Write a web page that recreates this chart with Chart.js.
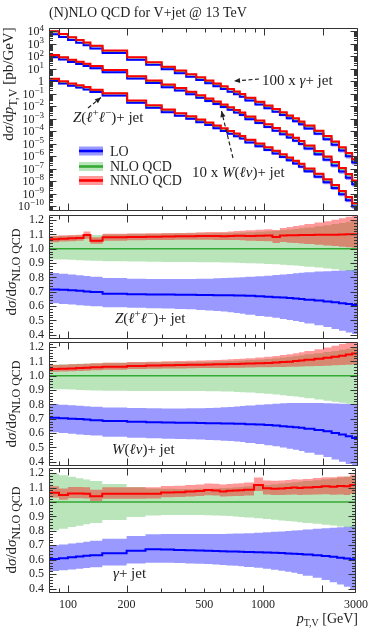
<!DOCTYPE html>
<html>
<head>
<meta charset="utf-8">
<title>(N)NLO QCD for V+jet @ 13 TeV</title>
<script src="https://cdn.jsdelivr.net/npm/chart.js@4.4.1/dist/chart.umd.min.js"></script>
<style>
  html, body { margin: 0; padding: 0; background: #fff; }
  #page { position: relative; width: 373px; height: 635px; overflow: hidden; }
  #page canvas { position: absolute; left: 0; top: 0; }
</style>
</head>
<body>
<div id="page">
  <canvas id="mainChart" width="373" height="635"></canvas>
  <canvas id="zChart" width="373" height="635"></canvas>
  <canvas id="wChart" width="373" height="635"></canvas>
  <canvas id="gChart" width="373" height="635"></canvas>
</div>
<script>
// bin edges in p_T,V [GeV]
const EDGES = [80, 90, 100, 110, 120, 130, 150, 200, 250, 300, 350, 400, 450, 500, 550, 600, 650, 700,
  750, 800, 900, 1000, 1100, 1200, 1300, 1400, 1500, 1600, 1800, 2000, 2200, 2400, 2600, 2800, 3000];

// NLO QCD central values as drawn in the top panel [pb/GeV]
const NLO_GAMMA_X100 = [9.8e3, 5.9e3, 3.3e3, 2.0e3, 1.26e3, 6.9e2, 2.85e2, 80, 32, 14.1,
  6.8, 3.5, 1.95, 1.07, 0.62, 0.37, 0.224, 0.141, 0.089, 0.045,
  0.021, 0.0107, 5.6e-3, 3.1e-3, 1.7e-3, 9.8e-4, 5.6e-4, 2.6e-4, 9.8e-5, 3.7e-5,
  1.35e-5, 4.7e-6, 1.6e-6, 5.1e-7];
const NLO_W_X10 = [1.23e2, 81, 52, 36, 24.5, 16.2, 7.8, 2.45, 1.07, 0.51,
  0.27, 0.135, 0.071, 0.039, 0.0224, 0.0129, 7.8e-3, 4.7e-3, 2.95e-3, 1.41e-3,
  6.8e-4, 3.4e-4, 1.7e-4, 8.9e-5, 4.9e-5, 2.7e-5, 1.48e-5, 6.5e-6, 2.3e-6, 8.5e-7,
  2.95e-7, 9.8e-8, 3.2e-8, 9.8e-9];
const NLO_Z = [1.51, 0.95, 0.63, 0.45, 0.32, 0.20, 0.105, 0.0275, 0.011, 5.0e-3,
  2.6e-3, 1.45e-3, 7.9e-4, 4.6e-4, 2.6e-4, 1.58e-4, 9.5e-5, 6.0e-5, 3.8e-5, 1.9e-5,
  9.5e-6, 4.8e-6, 2.5e-6, 1.32e-6, 7.2e-7, 4.0e-7, 2.2e-7, 9.5e-8, 3.5e-8, 1.26e-8,
  4.4e-9, 1.45e-9, 4.8e-10, 1.5e-10];

// ratios to NLO QCD: Z(ll)+jet
const z_lo = [0.715,0.713,0.710,0.706,0.702,0.697,0.685,0.683,0.681,0.680, 0.679,0.678,0.677,0.677,0.676,0.675,0.675,0.674,0.673,0.671, 0.668,0.665,0.662,0.659,0.656,0.652,0.649,0.644,0.638,0.632, 0.626,0.620,0.614,0.608];
const z_lo_up = [0.830,0.825,0.820,0.815,0.810,0.805,0.795,0.790,0.788,0.788, 0.788,0.789,0.790,0.791,0.793,0.795,0.797,0.799,0.801,0.804, 0.808,0.812,0.816,0.820,0.824,0.828,0.832,0.836,0.840,0.843, 0.846,0.848,0.850,0.852];
const z_lo_dn = [0.620,0.615,0.610,0.606,0.602,0.598,0.592,0.588,0.585,0.583, 0.580,0.577,0.573,0.569,0.565,0.561,0.556,0.551,0.546,0.539, 0.530,0.525,0.518,0.510,0.503,0.496,0.489,0.478,0.466,0.453, 0.440,0.428,0.416,0.405];
const z_nlo_up = [1.088,1.089,1.090,1.092,1.094,1.096,1.100,1.104,1.105,1.106, 1.107,1.107,1.108,1.108,1.109,1.110,1.111,1.112,1.113,1.115, 1.118,1.122,1.126,1.130,1.134,1.138,1.142,1.148,1.156,1.164, 1.172,1.180,1.188,1.195];
const z_nlo_dn = [0.925,0.924,0.922,0.920,0.918,0.916,0.913,0.910,0.909,0.908, 0.907,0.907,0.906,0.906,0.905,0.904,0.903,0.902,0.901,0.899, 0.897,0.894,0.891,0.888,0.885,0.882,0.879,0.874,0.868,0.862, 0.856,0.850,0.845,0.840];
const z_nnlo = [1.065,1.070,1.072,1.075,1.095,1.055,1.080,1.082,1.084,1.085, 1.086,1.087,1.088,1.089,1.088,1.087,1.089,1.091,1.090,1.089, 1.091,1.092,1.082,1.092,1.093,1.094,1.095,1.096,1.097,1.097, 1.098,1.099,1.100,1.100];
const z_nnlo_up = [1.090,1.094,1.096,1.098,1.120,1.080,1.104,1.106,1.108,1.109, 1.110,1.112,1.114,1.116,1.116,1.117,1.120,1.124,1.125,1.128, 1.132,1.136,1.130,1.145,1.152,1.158,1.164,1.172,1.182,1.192, 1.202,1.212,1.222,1.232];
const z_nnlo_dn = [1.045,1.050,1.052,1.055,1.070,1.035,1.055,1.058,1.060,1.061, 1.062,1.062,1.062,1.062,1.061,1.060,1.060,1.060,1.058,1.056, 1.054,1.052,1.040,1.046,1.042,1.039,1.036,1.032,1.027,1.022, 1.018,1.014,1.010,1.006];

// ratios to NLO QCD: W(lv)+jet
const w_lo = [0.706,0.703,0.700,0.697,0.694,0.690,0.684,0.679,0.676,0.674, 0.672,0.671,0.670,0.669,0.668,0.667,0.666,0.665,0.664,0.662, 0.659,0.656,0.652,0.648,0.644,0.640,0.636,0.630,0.622,0.612, 0.601,0.590,0.578,0.565];
const w_lo_up = [0.800,0.797,0.793,0.790,0.787,0.784,0.778,0.774,0.772,0.771, 0.771,0.772,0.773,0.775,0.777,0.779,0.782,0.785,0.788,0.792, 0.797,0.801,0.805,0.807,0.809,0.810,0.810,0.810,0.809,0.808, 0.806,0.804,0.802,0.800];
const w_lo_dn = [0.605,0.600,0.595,0.590,0.586,0.582,0.574,0.567,0.563,0.560, 0.558,0.556,0.554,0.552,0.550,0.547,0.544,0.541,0.537,0.531, 0.523,0.515,0.507,0.499,0.491,0.483,0.475,0.463,0.448,0.432, 0.416,0.400,0.384,0.368];
const w_nlo_up = [1.078,1.079,1.081,1.083,1.085,1.087,1.090,1.092,1.093,1.094, 1.095,1.096,1.097,1.098,1.099,1.100,1.102,1.104,1.106,1.109, 1.113,1.117,1.122,1.127,1.132,1.137,1.142,1.149,1.157,1.165, 1.173,1.181,1.188,1.195];
const w_nlo_dn = [0.906,0.905,0.903,0.901,0.899,0.897,0.895,0.894,0.894,0.894, 0.894,0.893,0.893,0.892,0.891,0.890,0.889,0.887,0.885,0.882, 0.878,0.874,0.869,0.864,0.859,0.854,0.849,0.842,0.834,0.826, 0.818,0.811,0.805,0.800];
const w_nnlo = [1.047,1.049,1.051,1.053,1.055,1.058,1.063,1.068,1.071,1.073, 1.075,1.076,1.077,1.078,1.079,1.080,1.081,1.082,1.083,1.085, 1.087,1.089,1.092,1.095,1.098,1.102,1.106,1.111,1.118,1.125, 1.132,1.139,1.147,1.155];
const w_nnlo_up = [1.075,1.077,1.079,1.081,1.083,1.086,1.090,1.095,1.098,1.100, 1.102,1.104,1.106,1.108,1.110,1.112,1.114,1.116,1.118,1.122, 1.127,1.132,1.138,1.144,1.150,1.157,1.164,1.173,1.185,1.197, 1.209,1.221,1.233,1.245];
const w_nnlo_dn = [1.027,1.029,1.031,1.033,1.035,1.038,1.042,1.046,1.048,1.050, 1.051,1.052,1.053,1.053,1.054,1.054,1.055,1.055,1.056,1.057, 1.058,1.059,1.060,1.061,1.062,1.063,1.064,1.066,1.068,1.070, 1.072,1.074,1.076,1.078];

// ratios to NLO QCD: gamma+jet
const g_lo = [0.605,0.610,0.617,0.622,0.627,0.632,0.645,0.663,0.672,0.671, 0.668,0.666,0.664,0.662,0.660,0.659,0.658,0.657,0.656,0.654, 0.652,0.650,0.648,0.646,0.644,0.642,0.640,0.636,0.631,0.626, 0.620,0.614,0.608,0.603];
const g_lo_up = [0.700,0.705,0.712,0.718,0.724,0.731,0.745,0.765,0.776,0.778, 0.778,0.778,0.778,0.778,0.778,0.779,0.780,0.781,0.782,0.784, 0.787,0.790,0.793,0.796,0.799,0.802,0.805,0.809,0.814,0.818, 0.822,0.825,0.828,0.830];
const g_lo_dn = [0.522,0.527,0.533,0.538,0.543,0.548,0.560,0.574,0.580,0.579, 0.577,0.575,0.572,0.570,0.567,0.564,0.561,0.558,0.555,0.550, 0.544,0.538,0.531,0.524,0.517,0.510,0.502,0.490,0.475,0.460, 0.444,0.428,0.413,0.398];
const g_nlo_up = [1.195,1.185,1.174,1.164,1.155,1.145,1.125,1.104,1.094,1.091, 1.090,1.090,1.091,1.092,1.094,1.096,1.098,1.101,1.104,1.108, 1.113,1.118,1.123,1.128,1.132,1.136,1.140,1.145,1.151,1.157, 1.163,1.169,1.174,1.180];
const g_nlo_dn = [0.805,0.815,0.826,0.836,0.845,0.855,0.875,0.896,0.906,0.909, 0.910,0.910,0.909,0.908,0.906,0.904,0.902,0.899,0.896,0.892, 0.887,0.882,0.877,0.872,0.868,0.864,0.860,0.855,0.849,0.843, 0.837,0.831,0.826,0.820];
const g_nnlo = [1.063,1.048,1.059,1.058,1.057,1.040,1.056,1.056,1.057,1.066, 1.068,1.072,1.076,1.082,1.080,1.073,1.077,1.079,1.081,1.085, 1.118,1.095,1.092,1.094,1.096,1.100,1.097,1.100,1.104,1.108, 1.106,1.110,1.108,1.118];
const g_nnlo_up = [1.108,1.093,1.104,1.103,1.102,1.085,1.101,1.101,1.102,1.111, 1.113,1.117,1.121,1.128,1.126,1.120,1.124,1.127,1.130,1.135, 1.170,1.148,1.146,1.149,1.152,1.157,1.155,1.159,1.165,1.171, 1.171,1.177,1.177,1.190];
const g_nnlo_dn = [1.030,1.015,1.026,1.025,1.024,1.007,1.023,1.023,1.024,1.033, 1.035,1.038,1.042,1.047,1.045,1.037,1.040,1.041,1.042,1.045, 1.076,1.052,1.048,1.049,1.050,1.052,1.048,1.050,1.052,1.054, 1.050,1.052,1.048,1.056];

// NLO / NLO reference line
const NLO_REF = [1,1,1,1,1,1,1,1,1,1, 1,1,1,1,1,1,1,1,1,1, 1,1,1,1,1,1,1,1,1,1, 1,1,1,1];

// tick labels
const X_TICKS = [100, 200, 500, 1000, 3000];
const Y_MAIN_EXPONENTS = [4, 3, 2, 1, 0, -1, -2, -3, -4, -5, -6, -7, -8, -9, -10];
const Y_RATIO_TICKS = [0.4, 0.5, 0.6, 0.7, 0.8, 0.9, 1.0, 1.1, 1.2];

const SERIF = "'Liberation Serif', 'Times New Roman', serif";
const INK = '#222';
const LO_LINE = '#0000ff', LO_BAND = 'rgba(0, 0, 255, 0.40)';
const NLO_LINE = '#33aa33', NLO_BAND = 'rgba(0, 160, 0, 0.27)';
const NNLO_LINE = '#ff0000', NNLO_BAND = 'rgba(255, 0, 0, 0.40)';

const Z = {lo: z_lo, loUp: z_lo_up, loDn: z_lo_dn, nloUp: z_nlo_up, nloDn: z_nlo_dn, nnlo: z_nnlo, nnloUp: z_nnlo_up, nnloDn: z_nnlo_dn};
const W = {lo: w_lo, loUp: w_lo_up, loDn: w_lo_dn, nloUp: w_nlo_up, nloDn: w_nlo_dn, nnlo: w_nnlo, nnloUp: w_nnlo_up, nnloDn: w_nnlo_dn};
const G = {lo: g_lo, loUp: g_lo_up, loDn: g_lo_dn, nloUp: g_nlo_up, nloDn: g_nlo_dn, nnlo: g_nnlo, nnloUp: g_nnlo_up, nnloDn: g_nnlo_dn};

// histogram outline: two points per bin
function hist(vals) {
  const pts = [];
  vals.forEach((v, i) => {
    pts.push({x: EDGES[i], y: v});
    pts.push({x: EDGES[i + 1], y: v});
  });
  return pts;
}

function band(up, dn, color, order) {
  return [
    {data: hist(up), borderWidth: 0, borderColor: 'rgba(0,0,0,0)', pointRadius: 0, fill: '+1', backgroundColor: color, order: order},
    {data: hist(dn), borderWidth: 0, borderColor: 'rgba(0,0,0,0)', pointRadius: 0, fill: false, order: order}
  ];
}

function line(vals, color, width, order) {
  return {data: hist(vals), borderColor: color, borderWidth: width, pointRadius: 0, fill: false, order: order};
}

function processSets(nlo, r, lw) {
  const m = a => a.map((v, i) => v * nlo[i]);
  return [
    band(m(r.loUp), m(r.loDn), LO_BAND, 5),
    band(m(r.nloUp), m(r.nloDn), NLO_BAND, 4),
    band(m(r.nnloUp), m(r.nnloDn), NNLO_BAND, 3),
    line(m(r.lo), LO_LINE, lw, 2),
    line(nlo, NLO_LINE, lw - 0.5, 1),
    line(m(r.nnlo), NNLO_LINE, lw, 0)
  ].flat();
}

// rich text: parts are [text, style] with style '', 'i', 'sub', 'sup'
function fontFor(style, size, small) {
  const s = (style === 'sub' || style === 'sup') ? Math.round(size * small) : size;
  return (style === 'i' ? 'italic ' : '') + s + 'px ' + SERIF;
}
function rich(ctx, parts, x, y, size, align, small) {
  small = small || 0.72;
  let w = 0;
  for (const [t, st] of parts) { ctx.font = fontFor(st, size, small); w += ctx.measureText(t).width; }
  let cx = align === 'center' ? x - w / 2 : align === 'right' ? x - w : x;
  ctx.textAlign = 'left';
  ctx.textBaseline = 'alphabetic';
  for (const [t, st] of parts) {
    ctx.font = fontFor(st, size, small);
    const dy = st === 'sub' ? size * 0.28 : st === 'sup' ? -size * 0.4 : 0;
    ctx.fillText(t, cx, y + dy);
    cx += ctx.measureText(t).width;
  }
}

function arrow(ctx, x0, y0, x1, y1) {
  ctx.save();
  ctx.strokeStyle = INK; ctx.fillStyle = INK; ctx.lineWidth = 1.2;
  ctx.setLineDash([4, 2.5]);
  ctx.beginPath(); ctx.moveTo(x0, y0); ctx.lineTo(x1, y1); ctx.stroke();
  ctx.setLineDash([]);
  const a = Math.atan2(y1 - y0, x1 - x0), L = 6, H = 2.6;
  ctx.beginPath();
  ctx.moveTo(x1, y1);
  ctx.lineTo(x1 - L * Math.cos(a) + H * Math.sin(a), y1 - L * Math.sin(a) - H * Math.cos(a));
  ctx.lineTo(x1 - L * Math.cos(a) - H * Math.sin(a), y1 - L * Math.sin(a) + H * Math.cos(a));
  ctx.closePath(); ctx.fill();
  ctx.restore();
}

const X_MAJOR_MARKS = [100, 200, 1000, 2000];
const X_MINOR_MARKS = [90, 300, 400, 500, 600, 700, 800, 900];

// frame with inward ticks on all four sides
const framePlugin = {
  id: 'frame',
  afterDatasetsDraw(chart, args, opts) {
    const {ctx, chartArea: a} = chart;
    const xs = chart.scales.x, ys = chart.scales.y;
    const L = Math.round(a.left) + 0.5, R = Math.round(a.right) - 0.5;
    const T = Math.round(a.top) + 0.5, B = Math.round(a.bottom) - 0.5;
    ctx.save();
    ctx.strokeStyle = '#333';
    ctx.lineWidth = 1;
    ctx.beginPath();
    ctx.rect(L, T, R - L, B - T);
    const xm = X_MAJOR_MARKS.map(v => [v, 7]).concat(X_MINOR_MARKS.map(v => [v, 4]));
    for (const [v, len] of xm) {
      const px = Math.round(xs.getPixelForValue(v)) + 0.5;
      ctx.moveTo(px, B); ctx.lineTo(px, B - len);
      ctx.moveTo(px, T); ctx.lineTo(px, T + len);
    }
    for (const [v, len] of opts.yMarks) {
      const py = Math.round(ys.getPixelForValue(v)) + 0.5;
      if (py < T || py > B) continue;
      ctx.moveTo(L, py); ctx.lineTo(L + len, py);
      ctx.moveTo(R, py); ctx.lineTo(R - len, py);
    }
    ctx.stroke();
    ctx.restore();
  }
};

const mainLabels = {
  id: 'mainLabels',
  afterDraw(chart) {
    const {ctx} = chart, ys = chart.scales.y;
    ctx.save();
    ctx.fillStyle = INK;
    for (const d of Y_MAIN_EXPONENTS) {
      const py = ys.getPixelForValue(Math.pow(10, d));
      const parts = d === 0 ? [['1', '']] : [['10', ''], [d < 0 ? '\u2212' + (-d) : String(d), 'sup']];
      rich(ctx, parts, 44, py + 4, 12, 'right');
    }
    ctx.restore();
  }
};

const Z_TXT = [['Z', 'i'], ['(', ''], ['\u2113', 'i'], ['+', 'sup'], ['\u2113', 'i'], ['\u2212', 'sup'], [')+ jet', '']];
const W_TXT = [['W', 'i'], ['(', ''], ['\u2113\u03bd', 'i'], [')+ jet', '']];
const G_TXT = [['\u03b3', 'i'], ['+ jet', '']];
const RATIO_TITLE = [['d', ''], ['\u03c3', 'i'], ['/d', ''], ['\u03c3', 'i'], ['NLO QCD', 'sub']];

const pageText = {
  id: 'pageText',
  afterDraw(chart) {
    const ctx = chart.ctx;
    ctx.save();
    ctx.fillStyle = INK;
    rich(ctx, [['(N)NLO QCD for V+jet @ 13 TeV', '']], 49, 16.5, 14, 'left');

    // annotations in the top panel
    rich(ctx, [['100 x ', ''], ['\u03b3', 'i'], ['+ jet', '']], 262, 85, 15, 'left');
    arrow(ctx, 259, 79, 234, 81);
    rich(ctx, Z_TXT, 73, 122, 15, 'left');
    arrow(ctx, 88, 108, 101, 97.5);
    rich(ctx, [['10 x ', '']].concat(W_TXT), 192, 177, 15, 'left');
    arrow(ctx, 233, 158, 221.5, 111);

    // legend
    const rows = [['LO', LO_LINE, LO_BAND, 151], ['NLO QCD', NLO_LINE, NLO_BAND, 166.5], ['NNLO QCD', NNLO_LINE, NNLO_BAND, 180.5]];
    for (const [label, lc, bc, cy] of rows) {
      ctx.fillStyle = bc; ctx.fillRect(79, cy - 4.5, 24, 9);
      ctx.fillStyle = lc; ctx.fillRect(79, cy - 1.3, 24, 2.6);
      ctx.fillStyle = INK;
      rich(ctx, [[label, '']], 110, cy + 4.6, 14, 'left');
    }

    // process labels in ratio panels
    rich(ctx, Z_TXT, 115, 323, 15, 'left');
    rich(ctx, W_TXT, 112, 454, 15, 'left');
    rich(ctx, G_TXT, 113, 578, 15, 'left');

    // axis titles
    rich(ctx, [['p', 'i'], ['T,V', 'sub'], [' [GeV]', '']], 358, 622.5, 14, 'right');
    const vtitle = (parts, cx, cy) => {
      ctx.save(); ctx.translate(cx, cy); ctx.rotate(-Math.PI / 2);
      rich(ctx, parts, 0, 5, 15, 'center', 0.8);
      ctx.restore();
    };
    vtitle([['d', ''], ['\u03c3', 'i'], ['/d', ''], ['p', 'i'], ['T,V', 'sub'], [' [pb/GeV]', '']], 8, 84);
    vtitle(RATIO_TITLE, 11, 272);
    vtitle(RATIO_TITLE, 11, 404);
    vtitle(RATIO_TITLE, 11, 530);
    ctx.restore();
  }
};

function xScale(show) {
  return {
    type: 'logarithmic', min: 80, max: 3000, display: show,
    grid: {display: false, drawTicks: false}, border: {display: false},
    afterBuildTicks: s => { s.ticks = X_TICKS.map(v => ({value: v})); },
    afterFit: s => { s.height = show ? 26 : 0; },
    ticks: {callback: v => String(v), color: INK, font: {family: SERIF, size: 12}, padding: 5, autoSkip: false, maxRotation: 0}
  };
}

function ratioScale() {
  return {
    type: 'linear', min: 0.37, max: 1.235,
    grid: {display: false, drawTicks: false}, border: {display: false},
    afterBuildTicks: s => { s.ticks = Y_RATIO_TICKS.map(v => ({value: v})); },
    afterFit: s => { s.width = 49; },
    ticks: {callback: v => v.toFixed(1), color: INK, font: {family: SERIF, size: 12}, padding: 5, autoSkip: false}
  };
}

const logMarks = [];
for (let d = -11; d <= 4; d++) {
  for (let k = 1; k <= 9; k++) logMarks.push([k * Math.pow(10, d), k === 1 ? 7 : 3.5]);
}
const ratioMarks = [];
for (let i = 0; i <= 42; i++) {
  const v = Math.round((0.38 + 0.02 * i) * 100) / 100;
  ratioMarks.push([v, Math.abs(v * 10 - Math.round(v * 10)) < 1e-6 ? 7 : 3.5]);
}

function makeChart(id, datasets, yScale, padding, showX, yMarks, extra) {
  return new Chart(document.getElementById(id), {
    type: 'line',
    data: {datasets: datasets},
    options: {
      responsive: false,
      animation: false,
      events: [],
      layout: {padding: padding},
      plugins: {legend: {display: false}, tooltip: {enabled: false}, frame: {yMarks: yMarks}},
      scales: {x: xScale(showX), y: yScale}
    },
    plugins: [framePlugin].concat(extra)
  });
}

const mainSets = processSets(NLO_GAMMA_X100, G, 2)
  .concat(processSets(NLO_W_X10, W, 2))
  .concat(processSets(NLO_Z, Z, 2));

makeChart('mainChart', mainSets, {
  type: 'logarithmic', min: 4e-11, max: 1.9e4,
  grid: {display: false, drawTicks: false}, border: {display: false},
  ticks: {display: false},
  afterFit: s => { s.width = 49; }
}, {left: 0, right: 15, top: 28, bottom: 424}, false, logMarks, [mainLabels]);

makeChart('zChart', processSets(NLO_REF, Z, 2), ratioScale(),
  {left: 0, right: 15, top: 215, bottom: 296}, false, ratioMarks, []);
makeChart('wChart', processSets(NLO_REF, W, 2), ratioScale(),
  {left: 0, right: 15, top: 342, bottom: 169}, false, ratioMarks, []);
makeChart('gChart', processSets(NLO_REF, G, 2), ratioScale(),
  {left: 0, right: 15, top: 468, bottom: 16}, true, ratioMarks, [pageText]);
</script>
</body>
</html>
